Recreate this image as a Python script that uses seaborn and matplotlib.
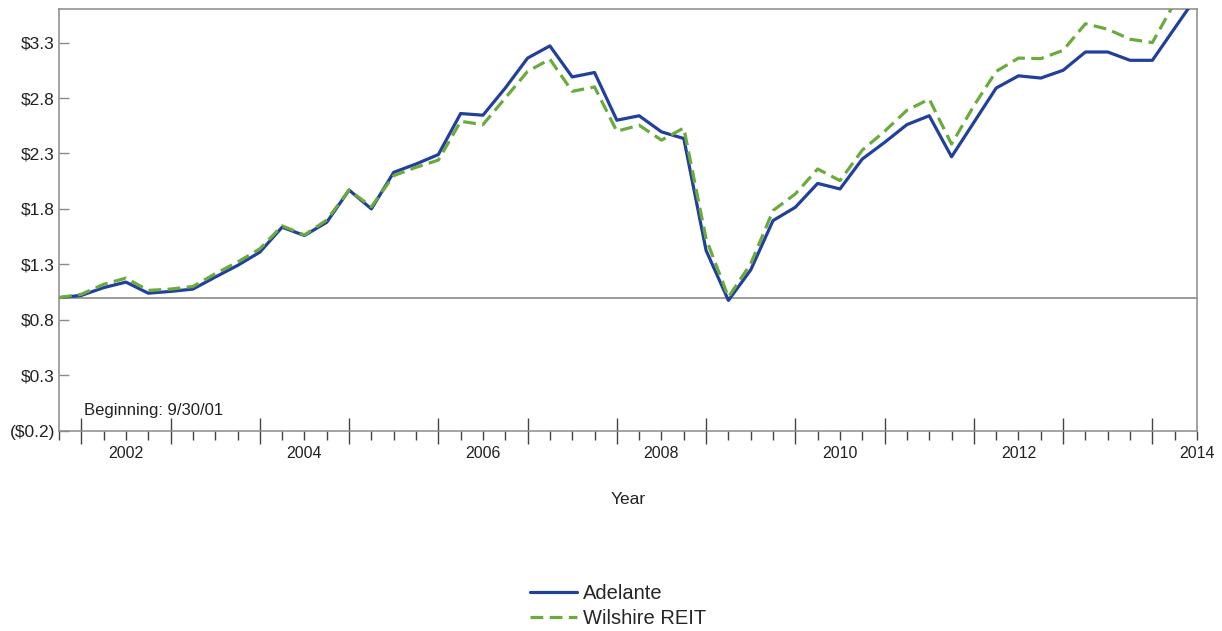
import numpy as np
import pandas as pd
import matplotlib
matplotlib.use("Agg")
import matplotlib.pyplot as plt
from matplotlib.ticker import FixedLocator, NullFormatter
import seaborn as sns

# quarter-end points, first one is 9/30/01 (decimal years)
start_year = 2001.75
n_quarters = 52
quarters = start_year + 0.25 * np.arange(n_quarters)

adelante = [1.00, 1.02, 1.09, 1.14, 1.04, 1.056, 1.077, 1.185, 1.29, 1.41,
            1.635, 1.56, 1.68, 1.97, 1.80, 2.13, 2.205, 2.29, 2.66, 2.645,
            2.89, 3.16, 3.27, 2.99, 3.03, 2.60, 2.64, 2.495, 2.435, 1.425,
            0.975, 1.25, 1.695, 1.815, 2.03, 1.98, 2.25, 2.40, 2.56, 2.64,
            2.27, 2.58, 2.89, 3.00, 2.98, 3.05, 3.215, 3.215, 3.14, 3.14,
            3.43, 3.72]
wilshire = [1.00, 1.03, 1.12, 1.176, 1.065, 1.077, 1.10, 1.215, 1.32, 1.44,
            1.647, 1.565, 1.70, 1.97, 1.82, 2.10, 2.175, 2.24, 2.59, 2.56,
            2.80, 3.04, 3.15, 2.86, 2.90, 2.50, 2.555, 2.42, 2.53, 1.53,
            1.005, 1.305, 1.785, 1.935, 2.16, 2.055, 2.33, 2.50, 2.69, 2.79,
            2.385, 2.73, 3.04, 3.16, 3.155, 3.23, 3.47, 3.42, 3.33, 3.30,
            3.66, 3.95]

series_names = ["Adelante", "Wilshire REIT"]
y_ticks = [-0.2, 0.3, 0.8, 1.3, 1.8, 2.3, 2.8, 3.3]
y_labels = ["($0.2)", "$0.3", "$0.8", "$1.3", "$1.8", "$2.3", "$2.8", "$3.3"]
year_labels = ["2002", "2004", "2006", "2008", "2010", "2012", "2014"]

df = pd.DataFrame({
    "t": np.concatenate([quarters, quarters]),
    "value": adelante + wilshire,
    "series": [series_names[0]] * n_quarters + [series_names[1]] * n_quarters,
})

sns.set_style("white")
plt.rcParams["font.family"] = ["Liberation Sans", "DejaVu Sans"]

fig = plt.figure(figsize=(12.22, 6.31), dpi=100)
ax = fig.add_axes([59 / 1222, 1 - 430.7 / 631, 1138 / 1222, 421.4 / 631])

grey = "#8a8a8a"
ax.axhline(1.0, color=grey, lw=1.2, zorder=1)

sns.lineplot(data=df, x="t", y="value", hue="series", style="series",
             hue_order=series_names, style_order=series_names,
             palette={"Adelante": "#21409a", "Wilshire REIT": "#6bab3e"},
             dashes={"Adelante": "", "Wilshire REIT": (4, 2)},
             linewidth=2.3, ax=ax, legend=True, zorder=3)

ax.set_xlim(start_year, 2014.5)
ax.set_ylim(-0.2, 3.6)

# y axis
ax.set_yticks(y_ticks)
ax.set_yticklabels(y_labels)
ax.tick_params(axis="y", left=True, direction="in", length=7, width=1,
               color=grey, pad=3, labelsize=12.5, labelcolor="#222222")

# x axis: long year ticks across the axis line, quarterly ticks below
ax.xaxis.set_major_locator(FixedLocator(np.arange(2002, 2015)))
ax.xaxis.set_major_formatter(NullFormatter())
ax.xaxis.set_minor_locator(FixedLocator(quarters))
ax.tick_params(axis="x", which="major", bottom=True, direction="inout",
               length=19, width=1, color="#444444")
ax.tick_params(axis="x", which="minor", bottom=True, direction="out",
               length=6.5, width=1, color="#444444")

# year labels sit in the middle of each year
sec = ax.secondary_xaxis("bottom")
sec.set_xticks([int(y) + 0.5 for y in year_labels], year_labels)
sec.tick_params(length=0, pad=11, labelsize=11.5, labelcolor="#222222")
sec.spines["bottom"].set_visible(False)

ax.set_xlabel("Year", fontsize=12.5, color="#222222")
ax.xaxis.set_label_coords(0.5, -0.145)
ax.set_ylabel("")

for s in ax.spines.values():
    s.set_color(grey)
    s.set_linewidth(1.1)

ax.text((84 - 59) / 1138, (430.7 - 411) / 421.4, "Beginning: 9/30/01",
        transform=ax.transAxes, fontsize=12, color="#222222",
        va="center", ha="left")

handles, labels = ax.get_legend_handles_labels()
ax.get_legend().remove()
fig.legend(handles, labels, loc="upper left",
           bbox_to_anchor=(530 / 1222, 1 - 584 / 631), frameon=False,
           fontsize=14.5, handlelength=2.35, handletextpad=0.3,
           labelspacing=0.3, borderpad=0, borderaxespad=0)

fig.savefig("out.png", dpi=100)
